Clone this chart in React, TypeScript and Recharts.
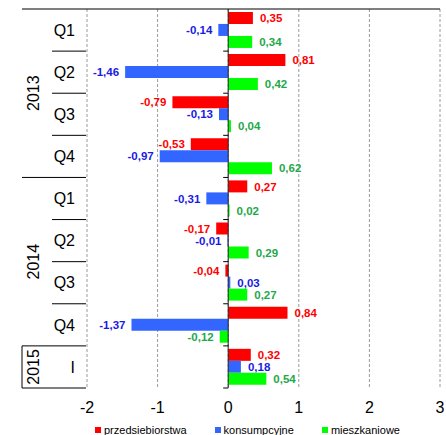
import React from 'react';
import { BarChart, Bar, XAxis, YAxis, CartesianGrid, ReferenceLine, LabelList, Legend } from 'recharts';

const categories = ['2013 Q1', '2013 Q2', '2013 Q3', '2013 Q4', '2014 Q1', '2014 Q2', '2014 Q3', '2014 Q4', '2015 I'];
const periodLabels = ['Q1', 'Q2', 'Q3', 'Q4', 'Q1', 'Q2', 'Q3', 'Q4', 'I'];
const years = ['2013', '2013', '2013', '2013', '2014', '2014', '2014', '2014', '2015'];
const przedsiebiorstwa = [0.35, 0.81, -0.79, -0.53, 0.27, -0.17, -0.04, 0.84, 0.32];
const konsumpcyjne = [-0.14, -1.46, -0.13, -0.97, -0.31, -0.01, 0.03, -1.37, 0.18];
const mieszkaniowe = [0.34, 0.42, 0.04, 0.62, 0.02, 0.29, 0.27, -0.12, 0.54];
const xTicks = [-2, -1, 0, 1, 2, 3];

const seriesNames = ['przedsiebiorstwa', 'konsumpcyjne', 'mieszkaniowe'];
const barColors = ['#ff0000', '#3366ff', '#00ff00'];
const labelColors = ['#ff0000', '#1a1ae6', '#1fa84a'];

const data = categories.map((c, i) => ({
  cat: c,
  p: przedsiebiorstwa[i],
  k: konsumpcyjne[i],
  m: mieszkaniowe[i],
}));

const W = 446;
const H = 435;
const FONT = '"Liberation Sans", Arial, sans-serif';
const M = { top: 9, right: 6, left: 22, bottom: 17 };
const YW = 65;
const XH = 30;
const PLOT_LEFT = M.left + YW;
const PLOT_RIGHT = W - M.right;
const PLOT_TOP = M.top;
const PLOT_BOTTOM = H - M.bottom - XH;
const BAND = (PLOT_BOTTOM - PLOT_TOP) / categories.length;
const X0 = PLOT_LEFT + ((0 - xTicks[0]) / (xTicks[xTicks.length - 1] - xTicks[0])) * (PLOT_RIGHT - PLOT_LEFT);
const LEFT_EDGE = M.left;
const COL = 52;
const YEAR_X = 33;

const fmt = (v: number) => v.toFixed(2).replace('.', ',');

const makeLabel = (color: string) => (props: any) => {
  const { x, y, width, height, value } = props;
  const x1 = Number(x);
  const x2 = Number(x) + Number(width);
  const left = Math.min(x1, x2);
  const right = Math.max(x1, x2);
  const cy = Number(y) + Number(height) / 2;
  const neg = Number(value) < 0;
  return (
    <text
      x={neg ? left - 6 : right + 7}
      y={cy}
      dy="0.36em"
      textAnchor={neg ? 'end' : 'start'}
      fill={color}
      fontSize={11.5}
      fontWeight="bold"
      fontFamily={FONT}
    >
      {fmt(Number(value))}
    </text>
  );
};

const CategoryTick = (props: any) => {
  const { y, payload } = props;
  const i = categories.indexOf(payload.value);
  if (i < 0) return null;
  const half = payload && payload.offset ? payload.offset : BAND / 2;
  const bottom = y + half;
  const top = y - half;
  const isYearEnd = i === categories.length - 1 || years[i + 1] !== years[i];
  const isYearStart = i === 0 || years[i - 1] !== years[i];
  let n = 0;
  if (isYearStart) {
    for (let j = i; j < years.length && years[j] === years[i]; j++) n++;
  }
  const yearCenter = y + (n - 1) * half;
  const isLastGroup = isYearStart && i + n === years.length;
  return (
    <g>
      {i === 0 && (
        <line x1={LEFT_EDGE} x2={PLOT_RIGHT} y1={top} y2={top} stroke="#000" strokeWidth={1} />
      )}
      <text
        x={75}
        y={y}
        dy="0.36em"
        textAnchor="end"
        fill="#000"
        fontSize={16}
        fontFamily={FONT}
      >
        {periodLabels[i]}
      </text>
      <line
        x1={isYearEnd ? LEFT_EDGE : COL}
        x2={PLOT_LEFT - 1}
        y1={bottom}
        y2={bottom}
        stroke="#000"
        strokeWidth={1}
      />
      <line x1={X0 - 5} x2={X0} y1={bottom} y2={bottom} stroke="#000" strokeWidth={1} />
      {isYearStart && (
        <text
          x={YEAR_X}
          y={yearCenter}
          dy="0.36em"
          textAnchor="middle"
          fill="#000"
          fontSize={16}
          fontFamily={FONT}
          transform={`rotate(-90 ${YEAR_X} ${yearCenter})`}
        >
          {years[i]}
        </text>
      )}
      {isLastGroup && (
        <line
          x1={LEFT_EDGE}
          x2={LEFT_EDGE}
          y1={top}
          y2={top + n * 2 * half}
          stroke="#000"
          strokeWidth={1}
        />
      )}
    </g>
  );
};

const LegendContent = () => (
  <div style={{ display: 'flex', fontFamily: FONT, fontSize: 11, color: '#000', whiteSpace: 'nowrap' }}>
    {seriesNames.map((name, i) => (
      <div key={name} style={{ display: 'flex', alignItems: 'center', marginRight: 28 }}>
        <span style={{ display: 'inline-block', width: 6, height: 6, background: barColors[i], marginRight: 3 }} />
        <span>{name}</span>
      </div>
    ))}
  </div>
);

export default function App() {
  return (
    <div style={{ position: 'absolute', left: 0, top: 0, width: W, height: H, background: '#fff' }}>
      <BarChart
        width={W}
        height={H}
        data={data}
        layout="vertical"
        margin={M}
        barCategoryGap="7%"
        barGap={0}
      >
        <CartesianGrid horizontal={false} vertical stroke="#9a9a9a" strokeDasharray="3 2" />
        <XAxis
          type="number"
          domain={[xTicks[0], xTicks[xTicks.length - 1]]}
          ticks={xTicks}
          tickLine={false}
          axisLine={false}
          tickMargin={8}
          height={XH}
          tick={{ fontSize: 16, fill: '#000', fontFamily: FONT }}
          interval={0}
        />
        <YAxis
          type="category"
          dataKey="cat"
          width={YW}
          tickLine={false}
          axisLine={false}
          interval={0}
          tick={<CategoryTick />}
        />
        <ReferenceLine x={0} stroke="#222" strokeWidth={1} />
        <Bar dataKey="p" name={seriesNames[0]} fill={barColors[0]} isAnimationActive={false}>
          <LabelList dataKey="p" content={makeLabel(labelColors[0])} />
        </Bar>
        <Bar dataKey="k" name={seriesNames[1]} fill={barColors[1]} isAnimationActive={false}>
          <LabelList dataKey="k" content={makeLabel(labelColors[1])} />
        </Bar>
        <Bar dataKey="m" name={seriesNames[2]} fill={barColors[2]} isAnimationActive={false}>
          <LabelList dataKey="m" content={makeLabel(labelColors[2])} />
        </Bar>
        <Legend
          layout="horizontal"
          verticalAlign="middle"
          align="center"
          content={<LegendContent />}
          wrapperStyle={{ top: 424, left: 95, width: 330, height: 14 }}
        />
      </BarChart>
    </div>
  );
}
